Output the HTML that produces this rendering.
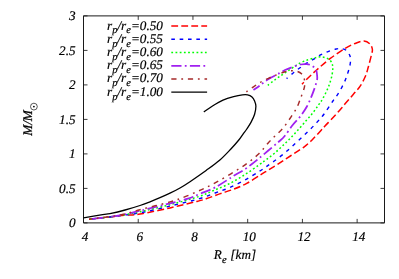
<!DOCTYPE html>
<html><head><meta charset="utf-8"><title>plot</title>
<style>
html,body{margin:0;padding:0;background:#fff;}
body{width:399px;height:279px;overflow:hidden;}
svg{display:block;will-change:transform;}
text{font-family:"Liberation Serif",serif;font-style:italic;font-size:13.2px;fill:#000;text-rendering:geometricPrecision;stroke:#000;stroke-width:0.18px;}
.sub{font-size:10.5px;}
</style></head><body>
<svg width="399" height="279" viewBox="0 0 399 279">
<rect width="399" height="279" fill="#fff"/>
<g stroke="#1a1a1a" stroke-width="1" fill="none">
<path d="M83.50 15.90 H384.50 V222.90 H83.50 Z"/>
<path stroke-width="0.85" d="M83.50 222.90 h4 M384.50 222.90 h-4 M83.50 188.40 h4 M384.50 188.40 h-4 M83.50 153.90 h4 M384.50 153.90 h-4 M83.50 119.40 h4 M384.50 119.40 h-4 M83.50 84.90 h4 M384.50 84.90 h-4 M83.50 50.40 h4 M384.50 50.40 h-4 M83.50 15.90 h4 M384.50 15.90 h-4 M83.50 222.90 v-4 M83.50 15.90 v4 M138.23 222.90 v-4 M138.23 15.90 v4 M192.95 222.90 v-4 M192.95 15.90 v4 M247.68 222.90 v-4 M247.68 15.90 v4 M302.41 222.90 v-4 M302.41 15.90 v4 M357.14 222.90 v-4 M357.14 15.90 v4"/>
</g>
<g text-anchor="end">
<text x="75.6" y="227.40">0</text>
<text x="75.6" y="192.90">0.5</text>
<text x="75.6" y="158.40">1</text>
<text x="75.6" y="123.90">1.5</text>
<text x="75.6" y="89.40">2</text>
<text x="75.6" y="54.90">2.5</text>
<text x="75.6" y="20.40">3</text>
</g>
<g text-anchor="middle">
<text x="85.10" y="240.9">4</text>
<text x="139.83" y="240.9">6</text>
<text x="194.55" y="240.9">8</text>
<text x="249.28" y="240.9">10</text>
<text x="304.01" y="240.9">12</text>
<text x="358.74" y="240.9">14</text>
</g>
<text x="213.7" y="259" letter-spacing="0.15">R<tspan class="sub" dy="3.9">e</tspan><tspan dy="-3.9"> [km]</tspan></text>
<text transform="translate(32.2 135.8) rotate(-90)" style="stroke-width:0.27px">M/M</text>
<circle cx="33.9" cy="106.6" r="3.4" fill="none" stroke="#000" stroke-width="0.65"/>
<circle cx="33.9" cy="106.6" r="0.9" fill="#000"/>
<text x="162.9" y="29.50" text-anchor="end">r<tspan class="sub" dy="3.9">p</tspan><tspan dy="-3.9">/r</tspan><tspan class="sub" dy="3.9">e</tspan><tspan dy="-3.9">=0.50</tspan></text>
<path d="M171.3 26.10 H207.1" stroke="#ff0000" stroke-width="1.5" fill="none" stroke-dasharray="6.8 3.2"/>
<text x="162.9" y="42.72" text-anchor="end">r<tspan class="sub" dy="3.9">p</tspan><tspan dy="-3.9">/r</tspan><tspan class="sub" dy="3.9">e</tspan><tspan dy="-3.9">=0.55</tspan></text>
<path d="M171.3 39.32 H207.1" stroke="#0000ff" stroke-width="1.4" fill="none" stroke-dasharray="3.6 4.75"/>
<text x="162.9" y="55.94" text-anchor="end">r<tspan class="sub" dy="3.9">p</tspan><tspan dy="-3.9">/r</tspan><tspan class="sub" dy="3.9">e</tspan><tspan dy="-3.9">=0.60</tspan></text>
<path d="M171.3 52.54 H207.1" stroke="#00ff00" stroke-width="1.5" fill="none" stroke-dasharray="1.8 2.4"/>
<text x="162.9" y="69.16" text-anchor="end">r<tspan class="sub" dy="3.9">p</tspan><tspan dy="-3.9">/r</tspan><tspan class="sub" dy="3.9">e</tspan><tspan dy="-3.9">=0.65</tspan></text>
<path d="M171.3 65.76 H207.1" stroke="#a020f0" stroke-width="1.75" fill="none" stroke-dasharray="10.2 3.3 1.8 3.3"/>
<text x="162.9" y="82.38" text-anchor="end">r<tspan class="sub" dy="3.9">p</tspan><tspan dy="-3.9">/r</tspan><tspan class="sub" dy="3.9">e</tspan><tspan dy="-3.9">=0.70</tspan></text>
<path d="M171.3 78.98 H207.1" stroke="#a52a2a" stroke-width="1.45" fill="none" stroke-dasharray="5.2 4.8 1.8 4.8"/>
<text x="162.9" y="95.60" text-anchor="end">r<tspan class="sub" dy="3.9">p</tspan><tspan dy="-3.9">/r</tspan><tspan class="sub" dy="3.9">e</tspan><tspan dy="-3.9">=1.00</tspan></text>
<path d="M171.3 92.20 H207.1" stroke="#000000" stroke-width="1.3" fill="none"/>
<path d="M302.00 84.20 C302.67 83.50 303.57 82.37 306.00 80.00 C308.43 77.63 312.60 73.55 316.60 70.00 C320.60 66.45 325.27 62.28 330.00 58.70 C334.73 55.12 340.83 51.03 345.00 48.50 C349.17 45.97 351.83 44.75 355.00 43.50 C358.17 42.25 361.50 40.92 364.00 41.00 C366.50 41.08 368.60 42.58 370.00 44.00 C371.40 45.42 372.17 47.67 372.40 49.50 C372.63 51.33 372.08 52.08 371.40 55.00 C370.72 57.92 369.30 63.45 368.30 67.00 C367.30 70.55 366.78 73.07 365.40 76.30 C364.02 79.53 362.03 83.37 360.00 86.40 C357.97 89.43 355.65 91.63 353.20 94.50 C350.75 97.37 348.13 100.32 345.30 103.60 C342.47 106.88 339.58 110.47 336.20 114.20 C332.82 117.93 327.47 123.37 325.00 126.00 C322.53 128.63 322.82 128.45 321.40 130.00 C319.98 131.55 318.10 133.60 316.50 135.30 C314.90 137.00 313.05 138.95 311.80 140.20 C310.55 141.45 310.32 141.65 309.00 142.80 C307.68 143.95 306.22 145.42 303.90 147.10 C301.58 148.78 298.03 150.98 295.10 152.90 C292.17 154.82 289.23 156.68 286.30 158.60 C283.37 160.52 280.42 162.53 277.50 164.40 C274.58 166.27 271.57 168.10 268.80 169.80 C266.03 171.50 264.58 172.33 260.90 174.60 C257.22 176.87 251.32 180.95 246.70 183.40 C242.08 185.85 237.72 187.55 233.20 189.30 C228.68 191.05 224.12 192.32 219.60 193.90 C215.08 195.48 209.87 197.55 206.10 198.80 C202.33 200.05 203.02 199.88 197.00 201.40 C190.98 202.92 179.50 205.80 170.00 207.90 C160.50 210.00 147.50 212.77 140.00 214.00 C132.50 215.23 130.00 214.80 125.00 215.30 C120.00 215.80 116.00 216.35 110.00 217.00 C104.00 217.65 92.50 218.83 89.00 219.20" stroke="#ff0000" stroke-width="1.5" fill="none" stroke-linejoin="round" stroke-dasharray="6.8 3.2" stroke-dashoffset="3.8"/>
<path d="M286.60 78.60 C287.83 77.55 291.77 74.10 294.00 72.30 C296.23 70.50 297.73 69.42 300.00 67.80 C302.27 66.18 305.22 64.10 307.60 62.60 C309.98 61.10 312.07 60.13 314.30 58.80 C316.53 57.47 318.62 55.85 321.00 54.60 C323.38 53.35 326.10 52.23 328.60 51.30 C331.10 50.37 333.85 49.43 336.00 49.00 C338.15 48.57 339.75 48.45 341.50 48.70 C343.25 48.95 345.17 49.48 346.50 50.50 C347.83 51.52 348.83 53.38 349.50 54.80 C350.17 56.22 350.42 57.30 350.50 59.00 C350.58 60.70 350.50 62.50 350.00 65.00 C349.50 67.50 348.50 71.00 347.50 74.00 C346.50 77.00 345.50 79.80 344.00 83.00 C342.50 86.20 340.35 90.20 338.50 93.20 C336.65 96.20 335.30 97.53 332.90 101.00 C330.50 104.47 326.70 110.52 324.10 114.00 C321.50 117.48 319.72 119.23 317.30 121.90 C314.88 124.57 312.33 127.27 309.60 130.00 C306.87 132.73 303.83 135.55 300.90 138.30 C297.97 141.05 294.98 143.82 292.00 146.50 C289.02 149.18 286.02 151.93 283.00 154.40 C279.98 156.87 276.72 159.23 273.90 161.30 C271.08 163.37 268.57 165.10 266.10 166.80 C263.63 168.50 262.72 169.23 259.10 171.50 C255.48 173.77 249.47 177.65 244.40 180.40 C239.33 183.15 233.58 185.90 228.70 188.00 C223.82 190.10 220.00 191.22 215.10 193.00 C210.20 194.78 206.82 196.52 199.30 198.70 C191.78 200.88 179.88 203.73 170.00 206.10 C160.12 208.47 147.50 211.42 140.00 212.90 C132.50 214.38 130.00 214.32 125.00 215.00 C120.00 215.68 115.83 216.27 110.00 216.95 C104.17 217.63 93.33 218.74 90.00 219.10" stroke="#0000ff" stroke-width="1.4" fill="none" stroke-linejoin="round" stroke-dasharray="3.6 4.75" stroke-dashoffset="2"/>
<path d="M267.80 85.30 C268.93 84.42 272.33 81.67 274.60 80.00 C276.87 78.33 279.17 76.83 281.40 75.30 C283.63 73.77 285.77 72.30 288.00 70.80 C290.23 69.30 293.05 67.47 294.80 66.30 C296.55 65.13 296.63 64.77 298.50 63.80 C300.37 62.83 303.48 61.43 306.00 60.50 C308.52 59.57 311.60 58.77 313.60 58.20 C315.60 57.63 316.63 57.32 318.00 57.10 C319.37 56.88 320.50 56.77 321.80 56.90 C323.10 57.03 324.50 57.42 325.80 57.90 C327.10 58.38 328.57 58.90 329.60 59.80 C330.63 60.70 331.47 61.97 332.00 63.30 C332.53 64.63 332.77 66.02 332.80 67.80 C332.83 69.58 332.63 71.63 332.20 74.00 C331.77 76.37 331.03 79.37 330.20 82.00 C329.37 84.63 328.45 87.00 327.20 89.80 C325.95 92.60 324.15 96.27 322.70 98.80 C321.25 101.33 320.15 102.65 318.50 105.00 C316.85 107.35 314.88 110.27 312.80 112.90 C310.72 115.53 308.43 117.98 306.00 120.80 C303.57 123.62 300.82 126.90 298.20 129.80 C295.58 132.70 292.93 135.50 290.30 138.20 C287.67 140.90 285.03 143.48 282.40 146.00 C279.77 148.52 277.13 151.07 274.50 153.30 C271.87 155.53 269.17 157.48 266.60 159.40 C264.03 161.32 262.80 162.20 259.10 164.80 C255.40 167.40 249.47 171.80 244.40 175.00 C239.33 178.20 233.95 181.37 228.70 184.00 C223.45 186.63 217.80 188.73 212.90 190.80 C208.00 192.87 206.45 194.08 199.30 196.40 C192.15 198.72 179.88 202.13 170.00 204.70 C160.12 207.27 147.50 210.13 140.00 211.80 C132.50 213.47 130.00 213.86 125.00 214.70 C120.00 215.54 115.83 216.12 110.00 216.85 C104.17 217.58 93.33 218.72 90.00 219.10" stroke="#00ff00" stroke-width="1.5" fill="none" stroke-linejoin="round" stroke-dasharray="1.8 2.4"/>
<path d="M253.50 90.00 C254.63 89.20 257.78 87.03 260.30 85.20 C262.82 83.37 265.35 81.03 268.60 79.00 C271.85 76.97 277.07 74.50 279.80 73.00 C282.53 71.50 282.88 71.00 285.00 70.00 C287.12 69.00 289.93 67.92 292.50 67.00 C295.07 66.08 298.07 64.98 300.40 64.50 C302.73 64.02 304.80 64.02 306.50 64.10 C308.20 64.18 309.37 64.48 310.60 65.00 C311.83 65.52 312.95 66.27 313.90 67.20 C314.85 68.13 315.78 69.38 316.30 70.60 C316.82 71.82 316.87 73.02 317.00 74.50 C317.13 75.98 317.47 77.32 317.10 79.50 C316.73 81.68 315.75 84.75 314.80 87.60 C313.85 90.45 312.67 93.53 311.40 96.60 C310.13 99.67 309.03 102.72 307.20 106.00 C305.37 109.28 302.85 113.08 300.40 116.30 C297.95 119.52 295.15 121.97 292.50 125.30 C289.85 128.63 286.75 133.60 284.50 136.30 C282.25 139.00 280.90 139.80 279.00 141.50 C277.10 143.20 275.53 144.45 273.10 146.50 C270.67 148.55 266.92 151.68 264.40 153.80 C261.88 155.92 260.18 157.42 258.00 159.20 C255.82 160.98 253.67 162.70 251.30 164.50 C248.93 166.30 246.43 168.30 243.80 170.00 C241.17 171.70 237.65 173.42 235.50 174.70 C233.35 175.98 234.30 175.58 230.90 177.70 C227.50 179.82 220.37 184.67 215.10 187.40 C209.83 190.13 203.82 192.22 199.30 194.10 C194.78 195.98 192.88 197.15 188.00 198.70 C183.12 200.25 178.00 201.38 170.00 203.40 C162.00 205.42 147.50 208.98 140.00 210.80 C132.50 212.62 130.00 213.36 125.00 214.35 C120.00 215.34 115.92 215.96 110.00 216.75 C104.08 217.54 92.92 218.71 89.50 219.10" stroke="#a020f0" stroke-width="1.75" fill="none" stroke-linejoin="round" stroke-dasharray="10.2 3.3 1.8 3.3" stroke-dashoffset="2.8"/>
<path d="M246.40 91.80 C247.58 90.97 251.18 88.38 253.50 86.80 C255.82 85.22 257.92 83.67 260.30 82.30 C262.68 80.93 265.42 79.72 267.80 78.60 C270.18 77.48 271.73 76.73 274.60 75.60 C277.47 74.47 282.27 72.60 285.00 71.80 C287.73 71.00 289.00 70.88 291.00 70.80 C293.00 70.72 295.25 70.80 297.00 71.30 C298.75 71.80 300.30 72.55 301.50 73.80 C302.70 75.05 303.67 77.07 304.20 78.80 C304.73 80.53 304.73 82.55 304.70 84.20 C304.67 85.85 304.65 86.45 304.00 88.70 C303.35 90.95 301.97 94.60 300.80 97.70 C299.63 100.80 298.57 104.20 297.00 107.30 C295.43 110.40 293.65 112.92 291.40 116.30 C289.15 119.68 286.13 124.40 283.50 127.60 C280.87 130.80 278.05 133.07 275.60 135.50 C273.15 137.93 271.55 139.20 268.80 142.20 C266.05 145.20 262.78 149.92 259.10 153.50 C255.42 157.08 251.40 160.32 246.70 163.70 C242.00 167.08 236.17 170.60 230.90 173.80 C225.63 177.00 219.98 180.27 215.10 182.90 C210.22 185.53 206.48 187.35 201.60 189.60 C196.72 191.85 191.07 194.35 185.80 196.40 C180.53 198.45 177.63 199.68 170.00 201.90 C162.37 204.12 147.50 207.68 140.00 209.70 C132.50 211.72 130.00 212.84 125.00 214.00 C120.00 215.16 116.00 215.80 110.00 216.65 C104.00 217.50 92.50 218.69 89.00 219.10" stroke="#a52a2a" stroke-width="1.45" fill="none" stroke-linejoin="round" stroke-dasharray="5.2 4.8 1.8 4.8" stroke-dashoffset="10"/>
<path d="M203.80 111.90 C205.25 110.92 209.30 107.95 212.50 106.00 C215.70 104.05 219.48 101.75 223.00 100.20 C226.52 98.65 230.37 97.58 233.60 96.70 C236.83 95.82 240.07 95.20 242.40 94.90 C244.73 94.60 246.00 94.55 247.60 94.90 C249.20 95.25 250.83 95.98 252.00 97.00 C253.17 98.02 253.95 99.45 254.60 101.00 C255.25 102.55 255.90 104.10 255.90 106.30 C255.90 108.50 255.40 111.57 254.60 114.20 C253.80 116.83 252.40 119.63 251.10 122.10 C249.80 124.57 248.17 126.97 246.80 129.00 C245.43 131.03 244.23 132.47 242.90 134.30 C241.57 136.13 240.80 137.55 238.80 140.00 C236.80 142.45 234.10 145.62 230.90 149.00 C227.70 152.38 223.73 156.72 219.60 160.30 C215.47 163.88 211.03 166.93 206.10 170.50 C201.17 174.07 194.35 178.78 190.00 181.70 C185.65 184.62 183.33 186.08 180.00 188.00 C176.67 189.92 173.33 191.58 170.00 193.20 C166.67 194.82 163.33 196.27 160.00 197.70 C156.67 199.13 153.33 200.50 150.00 201.80 C146.67 203.10 144.15 204.13 140.00 205.50 C135.85 206.87 130.10 208.65 125.10 210.00 C120.10 211.35 113.75 212.82 110.00 213.60 C106.25 214.38 107.02 213.98 102.60 214.70 C98.18 215.42 86.68 217.37 83.50 217.90" stroke="#000000" stroke-width="1.3" fill="none" stroke-linejoin="round"/>
</svg>
</body></html>
